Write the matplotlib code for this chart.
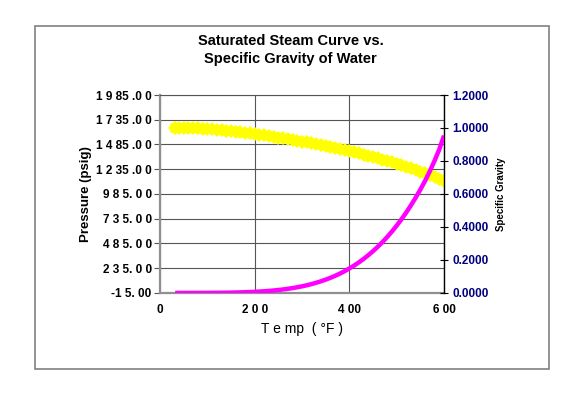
import matplotlib
matplotlib.use("Agg")
import matplotlib.pyplot as plt
from matplotlib.patches import Rectangle

plt.rcParams['font.family'] = ['Liberation Sans', 'DejaVu Sans']

# temperatura (F), presion de vapor saturado (psig), gravedad especifica del agua
temps = [32, 40, 50, 60, 70, 80, 90, 100, 110, 120, 130, 140, 150, 160, 170,
         180, 190, 200, 210, 220, 230, 240, 250, 260, 270, 280, 290, 300, 310,
         320, 330, 340, 350, 360, 370, 380, 390, 400, 410, 420, 430, 440, 450,
         460, 470, 480, 490, 500, 510, 520, 530, 540, 550, 560, 570, 580, 590, 600]
presion = [-14.6, -14.6, -14.5, -14.4, -14.3, -14.2, -14.0, -13.7, -13.4, -13.0,
           -12.5, -11.8, -11.0, -10.0, -8.7, -7.2, -5.4, -3.2, -0.6, 2.5, 6.1,
           10.3, 15.1, 20.7, 27.2, 34.5, 42.8, 52.3, 62.9, 74.9, 88.3, 103.2,
           119.8, 138.2, 158.5, 180.9, 205.5, 232.4, 261.8, 293.8, 328.6, 366.5,
           407.4, 451.6, 499.4, 550.8, 606.0, 665.3, 728.8, 796.7, 869.3, 946.8,
           1029.3, 1117.1, 1215.0, 1320.0, 1435.0, 1575.0]
grav_esp = [1.000, 1.000, 1.000, 0.999, 0.998, 0.997, 0.995, 0.993, 0.991, 0.989,
            0.986, 0.983, 0.980, 0.977, 0.974, 0.971, 0.967, 0.963, 0.959, 0.955,
            0.951, 0.947, 0.942, 0.938, 0.933, 0.928, 0.923, 0.918, 0.913, 0.908,
            0.902, 0.897, 0.891, 0.885, 0.879, 0.873, 0.866, 0.860, 0.853, 0.846,
            0.839, 0.832, 0.825, 0.817, 0.809, 0.801, 0.793, 0.784, 0.775, 0.766,
            0.756, 0.747, 0.736, 0.726, 0.715, 0.703, 0.691, 0.680]

x_ticks = [0, 200, 400, 600]
x_labels = ['0', '2 0 0', '4 00', '6 00']
y_ticks = [-15, 235, 485, 735, 985, 1235, 1485, 1735, 1985]
y_labels = ['-1 5. 00', '2 3 5. 0 0', '4 8 5. 0 0', '7 3 5. 0 0', '9 8 5. 0 0',
            '1 2 35 .0 0', '1 4 85 .0 0', '1 7 35 .0 0', '1 9 85 .0 0']
y2_ticks = [0.0, 0.2, 0.4, 0.6, 0.8, 1.0, 1.2]

fig = plt.figure(figsize=(5.81, 3.97), dpi=100)
fig.patches.append(Rectangle((0.0602, 0.0705), 0.885, 0.864, transform=fig.transFigure,
                             fill=False, edgecolor='#808080', linewidth=1.2))

ax = fig.add_axes([0.2754, 0.262, 0.4888, 0.4987])
ax2 = ax.twinx()

ax.set_xlim(0, 600)
ax.set_ylim(-15, 1985)
ax2.set_ylim(0, 1.2)

ax.grid(True, color='#555555', linewidth=0.8)
ax.set_axisbelow(True)

ax2.plot(temps, grav_esp, color='#ffff00', linewidth=7, marker='D', markersize=7,
         markeredgewidth=0, zorder=2)
ax2.plot(temps, presion, color='#ff00ff', linewidth=3.2, transform=ax.transData,
         zorder=3, solid_capstyle='butt')
ax2.set_ylim(0, 1.2)

ax.set_xticks(x_ticks)
ax.set_xticklabels(x_labels, fontsize=8.5, fontweight='bold')
ax.set_yticks(y_ticks)
ax.set_yticklabels(y_labels, fontsize=8.5, fontweight='bold')
ax.tick_params(axis='both', length=4, width=0.8, color='#555555', pad=2)
ax.tick_params(axis='x', length=0, pad=8)

ax2.set_yticks(y2_ticks)
ax2.set_yticklabels(['%.4f' % v for v in y2_ticks], fontsize=8.5,
                    color='#000080', fontweight='bold')
ax2.tick_params(axis='y', direction='inout', length=6, width=0.8, pad=3)

for s in ['left', 'bottom']:
    ax.spines[s].set_color('#909090')
    ax.spines[s].set_linewidth(1.6)
    ax2.spines[s].set_visible(False)
ax.spines['top'].set_color('#555555')
ax.spines['top'].set_linewidth(0.8)
ax2.spines['top'].set_visible(False)
ax.spines['right'].set_visible(False)
ax2.spines['right'].set_color('black')
ax2.spines['right'].set_linewidth(1.0)

ax.set_xlabel('T e mp  ( °F )', fontsize=10, labelpad=4)
ax.set_ylabel('Pressure (psig)', fontsize=9.5, fontweight='heavy', labelpad=3)
ax2.set_ylabel('Specific Gravity', fontsize=7, fontweight='heavy', rotation=90,
               labelpad=5)

fig.text(0.5, 0.874, 'Saturated Steam Curve vs.\nSpecific Gravity of Water',
         ha='center', va='center', fontsize=10.5, fontweight='bold', linespacing=1.35)

fig.savefig('out.png', dpi=100)
